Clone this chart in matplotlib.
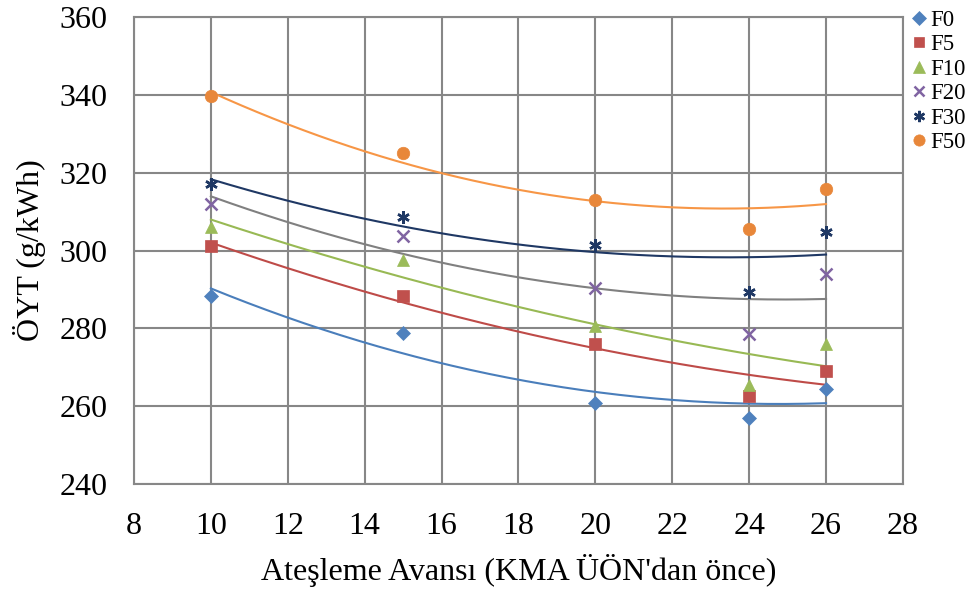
import numpy as np
import matplotlib
matplotlib.use("Agg")
import matplotlib.pyplot as plt

# Data
advance = [10, 15, 20, 24, 26]
series_names = ["F0", "F5", "F10", "F20", "F30", "F50"]
f0 = [288.3, 278.7, 260.7, 256.9, 264.3]
f5 = [301.2, 288.3, 275.9, 262.6, 269.1]
f10 = [306.0, 297.6, 280.6, 265.4, 276.1]
f20 = [311.9, 303.7, 290.3, 278.5, 294.0]
f30 = [317.0, 308.7, 301.4, 289.4, 304.8]
f50 = [339.6, 325.0, 312.9, 305.5, 315.7]

x_ticks = list(range(8, 29, 2))
y_ticks = list(range(240, 361, 20))

# Styles: marker colour, marker, trendline colour, marker size
styles = {
    "F0": ("#4F81BD", "D", "#4A7EBB", 7.5),
    "F5": ("#C0504D", "s", "#BE4B48", 8.5),
    "F10": ("#9BBB59", "^", "#98B954", 9),
    "F20": ("#8064A2", "x", "#808080", 8),
    "F30": ("#1F3864", (6, 2, 0), "#1F3864", 9),
    "F50": ("#E8873A", "o", "#F79646", 9),
}

plt.rcParams["font.family"] = ["Liberation Serif", "DejaVu Serif"]

fig = plt.figure(figsize=(9.73, 5.92), dpi=100)
ax = fig.add_axes([0.1377, 0.1824, 0.7903, 0.7889])

data = [f0, f5, f10, f20, f30, f50]
xs = np.array(advance, dtype=float)
xfit = np.linspace(min(advance), max(advance), 200)
for name, ys in zip(series_names, data):
    mc, mk, lc, ms = styles[name]
    # second order polynomial trendline (as in the original)
    coef = np.polyfit(xs, ys, 2)
    ax.plot(xfit, np.polyval(coef, xfit), color=lc, linewidth=1.5, zorder=3)
    lw = 1.8 if mk in ("x", (6, 2, 0)) else 0.5
    ax.plot(xs, ys, linestyle="none", marker=mk, color=mc, markersize=ms,
            markeredgewidth=lw, markeredgecolor=mc, label=name, zorder=4)

ax.set_xlim(8, 28)
ax.set_ylim(240, 360)
ax.set_xticks(x_ticks)
ax.set_yticks(y_ticks)
ax.grid(True, color="#878787", linewidth=1.5)
ax.set_axisbelow(True)
for s in ax.spines.values():
    s.set_color("#878787")
    s.set_linewidth(1.5)
ax.tick_params(length=0, labelsize=23)
ax.tick_params(axis="y", pad=19)
ax.tick_params(axis="x", pad=20)

ax.set_xlabel("Ateşleme Avansı (KMA ÜÖN'dan önce)", fontsize=23)
ax.set_ylabel("ÖYT (g/kWh)", fontsize=23)
ax.xaxis.set_label_coords(0.5, -0.150)
ax.yaxis.set_label_coords(-0.115, 0.5)

ax.legend(loc="upper left", bbox_to_anchor=(0.987, 1.055), frameon=False,
          fontsize=16.5, handlelength=0.7, handletextpad=0.15,
          labelspacing=0.15, borderaxespad=0.4, markerscale=0.9)

fig.savefig("out.png", dpi=100)
